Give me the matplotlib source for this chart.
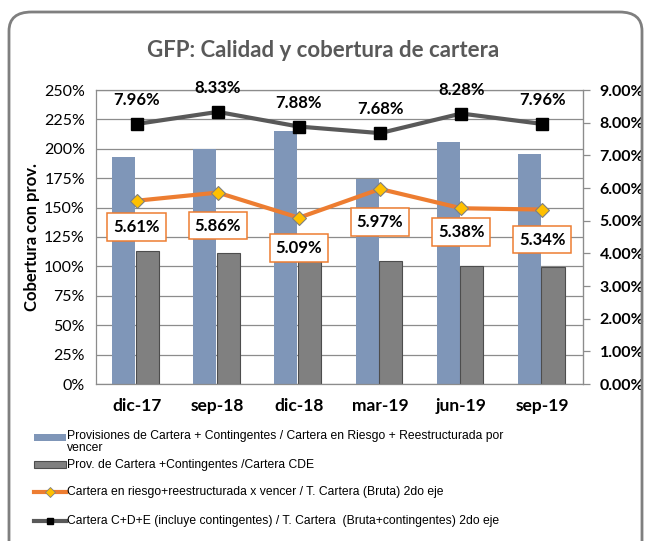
import matplotlib
matplotlib.use("Agg")
import matplotlib.pyplot as plt
from matplotlib.patches import FancyBboxPatch, Rectangle
from matplotlib.lines import Line2D
from matplotlib.ticker import FuncFormatter, MultipleLocator
import numpy as np

categories = ["dic-17", "sep-18", "dic-18", "mar-19", "jun-19", "sep-19"]
cobertura_riesgo = [193, 200, 215, 174, 206, 196]
cobertura_cde = [113, 111, 108, 105, 100, 99.5]
cartera_riesgo = [5.61, 5.86, 5.09, 5.97, 5.38, 5.34]
cartera_cde = [7.96, 8.33, 7.88, 7.68, 8.28, 7.96]

legend_labels = [
    "Provisiones de Cartera + Contingentes / Cartera en Riesgo + Reestructurada por\nvencer",
    "Prov. de Cartera +Contingentes /Cartera CDE",
    "Cartera en riesgo+reestructurada x vencer / T. Cartera (Bruta) 2do eje",
    "Cartera C+D+E (incluye contingentes) / T. Cartera  (Bruta+contingentes) 2do eje",
]

W, H = 646, 541
fig = plt.figure(figsize=(W / 100, H / 100), dpi=100)
fig.patch.set_facecolor("white")

title_font = "Lato"
lab_font = "Lato"
leg_font = "Liberation Sans"

# outer rounded border
border = FancyBboxPatch((9 / W, -0.05), (633 / W), (1 - 12 / H) + 0.05,
                        boxstyle="round,pad=0,rounding_size=0.035",
                        transform=fig.transFigure, fill=False,
                        edgecolor="#7f7f7f", linewidth=2, zorder=0)
fig.patches.append(border)

ax = fig.add_axes([96 / W, 1 - 384 / H, (583 - 96) / W, (384 - 90) / H])
ax2 = ax.twinx()

x = np.arange(len(categories))
bw = 0.285
ax.bar(x - 0.16, cobertura_riesgo, width=bw, color="#7f96b8", zorder=2)
ax.bar(x + 0.13, cobertura_cde, width=bw, color="#808080",
       edgecolor="#4d4d4d", linewidth=0.8, zorder=2)

ax.set_xlim(-0.5, len(categories) - 0.5)
ax.set_ylim(0, 250)
ax.yaxis.set_major_locator(MultipleLocator(25))
ax.yaxis.set_major_formatter(FuncFormatter(lambda v, p: f"{v:.0f}%"))
ax.grid(axis="y", color="#8c8c8c", linewidth=0.9, zorder=0)
ax.set_axisbelow(True)
ax.set_xticks(x)
ax.set_xticklabels(categories, fontsize=12.5, fontweight="bold", fontfamily=lab_font)
ax.tick_params(axis="x", length=0, pad=10)
ax.tick_params(axis="y", length=0, pad=8, labelsize=11.5)
for t in ax.get_yticklabels():
    t.set_fontfamily(lab_font)
ax.set_ylabel("Cobertura con prov.", fontsize=12, fontweight="bold",
              fontfamily=lab_font, labelpad=3)
for s in ["top", "bottom", "left", "right"]:
    ax.spines[s].set_color("#8c8c8c")
    ax.spines[s].set_linewidth(0.9)

ax2.set_ylim(0, 9)
ax2.yaxis.set_major_locator(MultipleLocator(1))
ax2.yaxis.set_major_formatter(FuncFormatter(lambda v, p: f"{v:.2f}%"))
ax2.tick_params(axis="y", length=5, width=0.9, color="#8c8c8c", pad=7, labelsize=11.5)
for t in ax2.get_yticklabels():
    t.set_fontfamily(lab_font)
    t.set_fontweight("bold")
for s in ["top", "bottom", "left", "right"]:
    ax2.spines[s].set_visible(False)
ax2.spines["right"].set_visible(True)
ax2.spines["right"].set_color("#8c8c8c")

ax2.plot(x, cartera_cde, color="#595959", linewidth=3, marker="s", markersize=8,
         markerfacecolor="black", markeredgecolor="black", zorder=4)
ax2.plot(x, cartera_riesgo, color="#ed7d31", linewidth=3, marker="D", markersize=7,
         markerfacecolor="#ffc000", markeredgecolor="#7f7f7f", markeredgewidth=0.8, zorder=4)

for xi, v in zip(x, cartera_cde):
    ax2.annotate(f"{v:.2f}%", (xi, v), textcoords="offset pixels", xytext=(0, 24),
                 ha="center", va="center", fontsize=12, fontweight="bold",
                 fontfamily=lab_font, color="black", zorder=6)
riesgo_off = [26, 33, 30, 33, 24, 30]
for xi, v, o in zip(x, cartera_riesgo, riesgo_off):
    ax2.annotate(f"{v:.2f}%", (xi, v), textcoords="offset pixels", xytext=(0, -o),
                 ha="center", va="center", fontsize=12, fontweight="bold",
                 fontfamily=lab_font, color="black", zorder=6,
                 bbox=dict(boxstyle="square,pad=0.35", facecolor="white",
                           edgecolor="#ed7d31", linewidth=1.1))

fig.text(323 / W, 1 - 50 / H, "GFP: Calidad y cobertura de cartera", ha="center",
         va="center", fontsize=16, fontweight="bold", color="#595959", fontfamily=title_font)

# legend (manual)
lx0, lx1, tx = 34 / W, 66 / W, 67 / W
leg_fs = 8.7
fig.patches.append(Rectangle((lx0, 1 - 441 / H), lx1 - lx0, 7 / H, transform=fig.transFigure,
                             facecolor="#7f96b8", edgecolor="none"))
fig.patches.append(Rectangle((lx0, 1 - 468 / H), lx1 - lx0, 7 / H, transform=fig.transFigure,
                             facecolor="#808080", edgecolor="#4d4d4d", linewidth=0.8))
fig.lines.append(Line2D([lx0, lx1], [1 - 492 / H] * 2, transform=fig.transFigure,
                        color="#ed7d31", linewidth=3))
fig.lines.append(Line2D([(lx0 + lx1) / 2], [1 - 492 / H], transform=fig.transFigure,
                        marker="D", markersize=5, markerfacecolor="#ffc000",
                        markeredgecolor="#7f7f7f", markeredgewidth=0.6, linestyle="none"))
fig.lines.append(Line2D([lx0, lx1], [1 - 521 / H] * 2, transform=fig.transFigure,
                        color="#595959", linewidth=3))
fig.lines.append(Line2D([(lx0 + lx1) / 2], [1 - 521 / H], transform=fig.transFigure,
                        marker="s", markersize=5, markerfacecolor="black",
                        markeredgecolor="black", linestyle="none"))
fig.text(tx, 1 - 430 / H, legend_labels[0], ha="left", va="top", fontsize=leg_fs,
         fontfamily=leg_font, linespacing=1.0)
fig.text(tx, 1 - 465 / H, legend_labels[1], ha="left", va="center", fontsize=leg_fs,
         fontfamily=leg_font)
fig.text(tx, 1 - 492 / H, legend_labels[2], ha="left", va="center", fontsize=leg_fs,
         fontfamily=leg_font)
fig.text(tx, 1 - 521 / H, legend_labels[3], ha="left", va="center", fontsize=leg_fs,
         fontfamily=leg_font)

fig.savefig("out.png", dpi=100, facecolor="white")
